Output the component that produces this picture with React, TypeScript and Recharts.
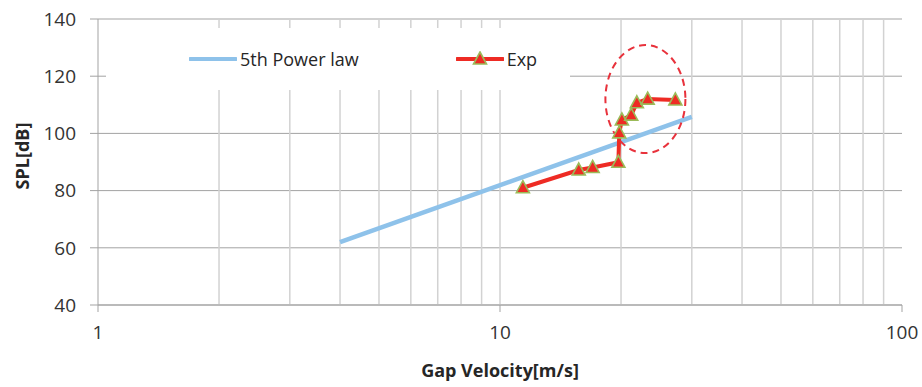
import React from 'react';
import {
  LineChart, Line, XAxis, YAxis, CartesianGrid, ReferenceLine,
  ReferenceDot, Legend
} from 'recharts';

// 5th power law reference line
const powerVelocity = [4, 30];
const powerSpl = [62, 105.8];

// measured SPL vs gap velocity
const expVelocity = [11.4, 15.7, 17.0, 19.7, 19.8, 20.1, 21.2, 21.9, 23.3, 27.3];
const expSpl = [81, 87.2, 88.1, 89.9, 100.2, 104.7, 106.4, 110.7, 112, 111.7];

const xTicks = [1, 10, 100];
const yTicks = [40, 60, 80, 100, 120, 140];
// minor log grid lines
const gridVelocity = [2, 3, 4, 5, 6, 7, 8, 9, 10, 20, 30, 40, 50, 60, 70, 80, 90];

// highlighted region (jump in SPL)
const highlightVelocity = 23;
const highlightSpl = 112;

const powerData = powerVelocity.map((v, i) => ({ v, spl: powerSpl[i] }));
const expData = expVelocity.map((v, i) => ({ v, spl: expSpl[i] }));

const FONT = '"Open Sans", sans-serif';
const RED = '#ee2b24';
const BLUE = '#8ec2ea';
const GREEN = '#9bbb59';

const Triangle = (props: any) => {
  const { cx, cy } = props;
  if (cx == null || cy == null) return null;
  return (
    <polygon
      points={`${cx},${cy - 7} ${cx + 6.5},${cy + 5} ${cx - 6.5},${cy + 5}`}
      fill={RED}
      stroke={GREEN}
      strokeWidth={1.6}
    />
  );
};

const LegendBox = (props: any) => {
  const items = props.payload || [];
  return (
    <div style={{
      background: '#fff', width: 464, height: 62, display: 'flex',
      alignItems: 'center', fontFamily: FONT, fontSize: 18, color: '#262626'
    }}>
      {items.map((it: any, i: number) => (
        <div key={it.value} style={{
          display: 'flex', alignItems: 'center',
          marginLeft: i === 0 ? 83 : 97
        }}>
          <svg width={48} height={16}>
            <line x1={1} y1={8} x2={47} y2={8} stroke={it.color} strokeWidth={4} strokeLinecap="round" />
            {it.value === 'Exp' && <Triangle cx={24} cy={8} />}
          </svg>
          <span style={{ marginLeft: 3 }}>{it.value}</span>
        </div>
      ))}
    </div>
  );
};

const App: React.FC = () => {
  return (
    <div style={{ position: 'absolute', left: 0, top: 0 }}>
      <LineChart width={922} height={387} margin={{ top: 19, right: 20, bottom: 0, left: 30 }}>
        <CartesianGrid vertical={false} stroke="#a3a3a3" strokeWidth={1} />
        {gridVelocity.map(g => (
          <ReferenceLine key={g} x={g} stroke="#d2d2d2" strokeWidth={1.5} />
        ))}
        <XAxis
          type="number"
          dataKey="v"
          scale="log"
          domain={[1, 100]}
          ticks={xTicks}
          allowDataOverflow
          height={82}
          stroke="#a3a3a3"
          tickSize={7}
          tickMargin={14}
          tick={{ fill: '#333', fontSize: 19, fontFamily: FONT }}
          label={{
            content: ({ viewBox }: any) => (
              <text
                x={viewBox.x + viewBox.width / 2}
                y={377}
                textAnchor="middle"
                fontFamily={FONT}
                fontWeight="bold"
                fontSize={18}
                fill="#262626"
              >Gap Velocity[m/s]</text>
            )
          }}
        />
        <YAxis
          type="number"
          domain={[40, 140]}
          ticks={yTicks}
          width={68}
          stroke="#a3a3a3"
          tickSize={8}
          tickMargin={14}
          tick={{ fill: '#333', fontSize: 19, fontFamily: FONT }}
          label={{
            content: ({ viewBox }: any) => {
              const x = viewBox.x - 8;
              const y = viewBox.y + viewBox.height / 2 - 6;
              return (
                <text
                  x={x}
                  y={y}
                  transform={`rotate(-90, ${x}, ${y})`}
                  textAnchor="middle"
                  dominantBaseline="central"
                  fontFamily={FONT}
                  fontWeight="bold"
                  fontSize={18}
                  fill="#262626"
                >SPL[dB]</text>
              );
            }
          }}
        />
        <Legend
          layout="horizontal"
          verticalAlign="middle"
          align="center"
          wrapperStyle={{ left: 106, top: 28, width: 464, height: 62 }}
          content={<LegendBox />}
        />
        <Line
          name="5th Power law"
          data={powerData}
          dataKey="spl"
          stroke={BLUE}
          strokeWidth={4.5}
          dot={false}
          isAnimationActive={false}
        />
        <Line
          name="Exp"
          data={expData}
          dataKey="spl"
          stroke={RED}
          strokeWidth={4}
          dot={<Triangle />}
          activeDot={false}
          isAnimationActive={false}
        />
        <ReferenceDot
          x={highlightVelocity}
          y={highlightSpl}
          ifOverflow="visible"
          shape={(p: any) => (
            <ellipse
              cx={p.cx}
              cy={p.cy}
              rx={40}
              ry={54}
              fill="none"
              stroke="#e8323c"
              strokeWidth={2}
              strokeDasharray="7 5"
            />
          )}
        />
      </LineChart>
    </div>
  );
};

export default App;
